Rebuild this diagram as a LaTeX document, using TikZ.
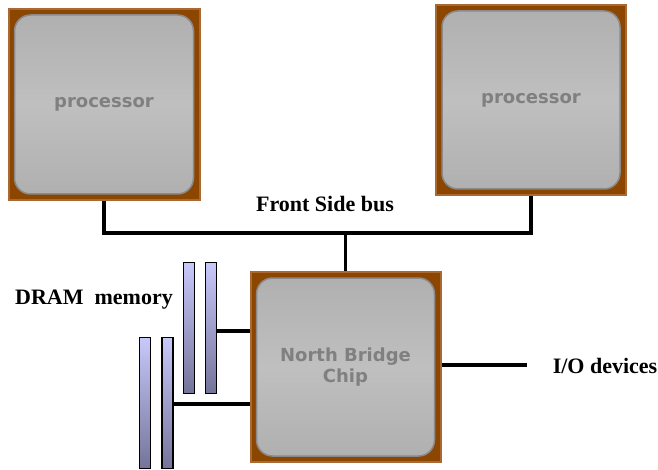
\documentclass[tikz,border=0pt]{standalone}
\usepackage{fontspec}
\setmainfont{Liberation Serif}
\newfontfamily\dvsans{DejaVu Sans}
\usetikzlibrary{calc}
\definecolor{brownfill}{HTML}{8C4600}
\definecolor{brownedge}{HTML}{A86A32}
\definecolor{chipedge}{HTML}{8A8A8A}
\definecolor{chiptext}{HTML}{808080}
\definecolor{dimmtop}{HTML}{C8C8FA}
\definecolor{dimmbot}{HTML}{74749A}
\tikzset{
  chipouter/.style={draw=brownedge, fill=brownfill, line width=2pt, minimum width=#1, minimum height=#1, inner sep=0pt},
  chipinner/.style={draw=chipedge, line width=1.5pt, rounded corners=16pt, top color=gray!62, bottom color=gray!62, middle color=gray!50, minimum width=#1, minimum height=#1, inner sep=0pt, font=\dvsans\bfseries\fontsize{18}{21}\selectfont, text=chiptext, align=center},
  dimm/.style={draw=black, line width=1.2pt, top color=dimmtop, bottom color=dimmbot, minimum width=11pt, minimum height=131pt, inner sep=0pt},
  wire/.style={line width=3.6pt, black},
  lbl/.style={font=\bfseries\fontsize{22}{24}\selectfont, inner sep=0pt}
}
\begin{document}
\begin{tikzpicture}[x=1pt,y=-1pt]
\useasboundingbox (0,0) rectangle (658,470);
% processors
\node[chipouter=191pt] (p1) at (104,104.5) {};
\node[chipinner=179pt] (p1in) at (p1.center) {processor};
\node[chipouter=190pt] (p2) at (531,100) {};
\node[chipinner=178pt] (p2in) at (p2.center) {processor};
% north bridge
\node[chipouter=190pt] (nb) at (345.5,367) {};
\node[chipinner=178pt] (nbin) at (nb.center) {North Bridge\\Chip};
% bus
\coordinate (busl) at (104,233);
\draw[wire] (p1.south) -- (busl) -| (p2.south);
\draw[wire] (nb.north) -- (nb.north |- busl);
\node[lbl] (fsb) at (325,204) {Front Side bus};
% DIMMs
\node[dimm] (d1) at (189,328) {};
\node[dimm] (d2) at (211,328) {};
\node[dimm] (d3) at (145,403) {};
\node[dimm] (d4) at (167.5,403) {};
\coordinate (m1) at ($(d2.east)+(0,3)$);
\coordinate (m2) at ($(d4.east)+(0,1)$);
\draw[wire, line width=3.2pt] (m1) -- (m1 -| nb.west);
\draw[wire, line width=3.2pt] (m2) -- (m2 -| nb.west);
\node[lbl] (dram) at (94,300) {DRAM\ \ memory};
% I/O
\coordinate (ioend) at (527,365);
\draw[wire] (nb.east |- ioend) -- (ioend);
\node[lbl] (io) at (605,366) {I/O devices};
\end{tikzpicture}
\end{document}
